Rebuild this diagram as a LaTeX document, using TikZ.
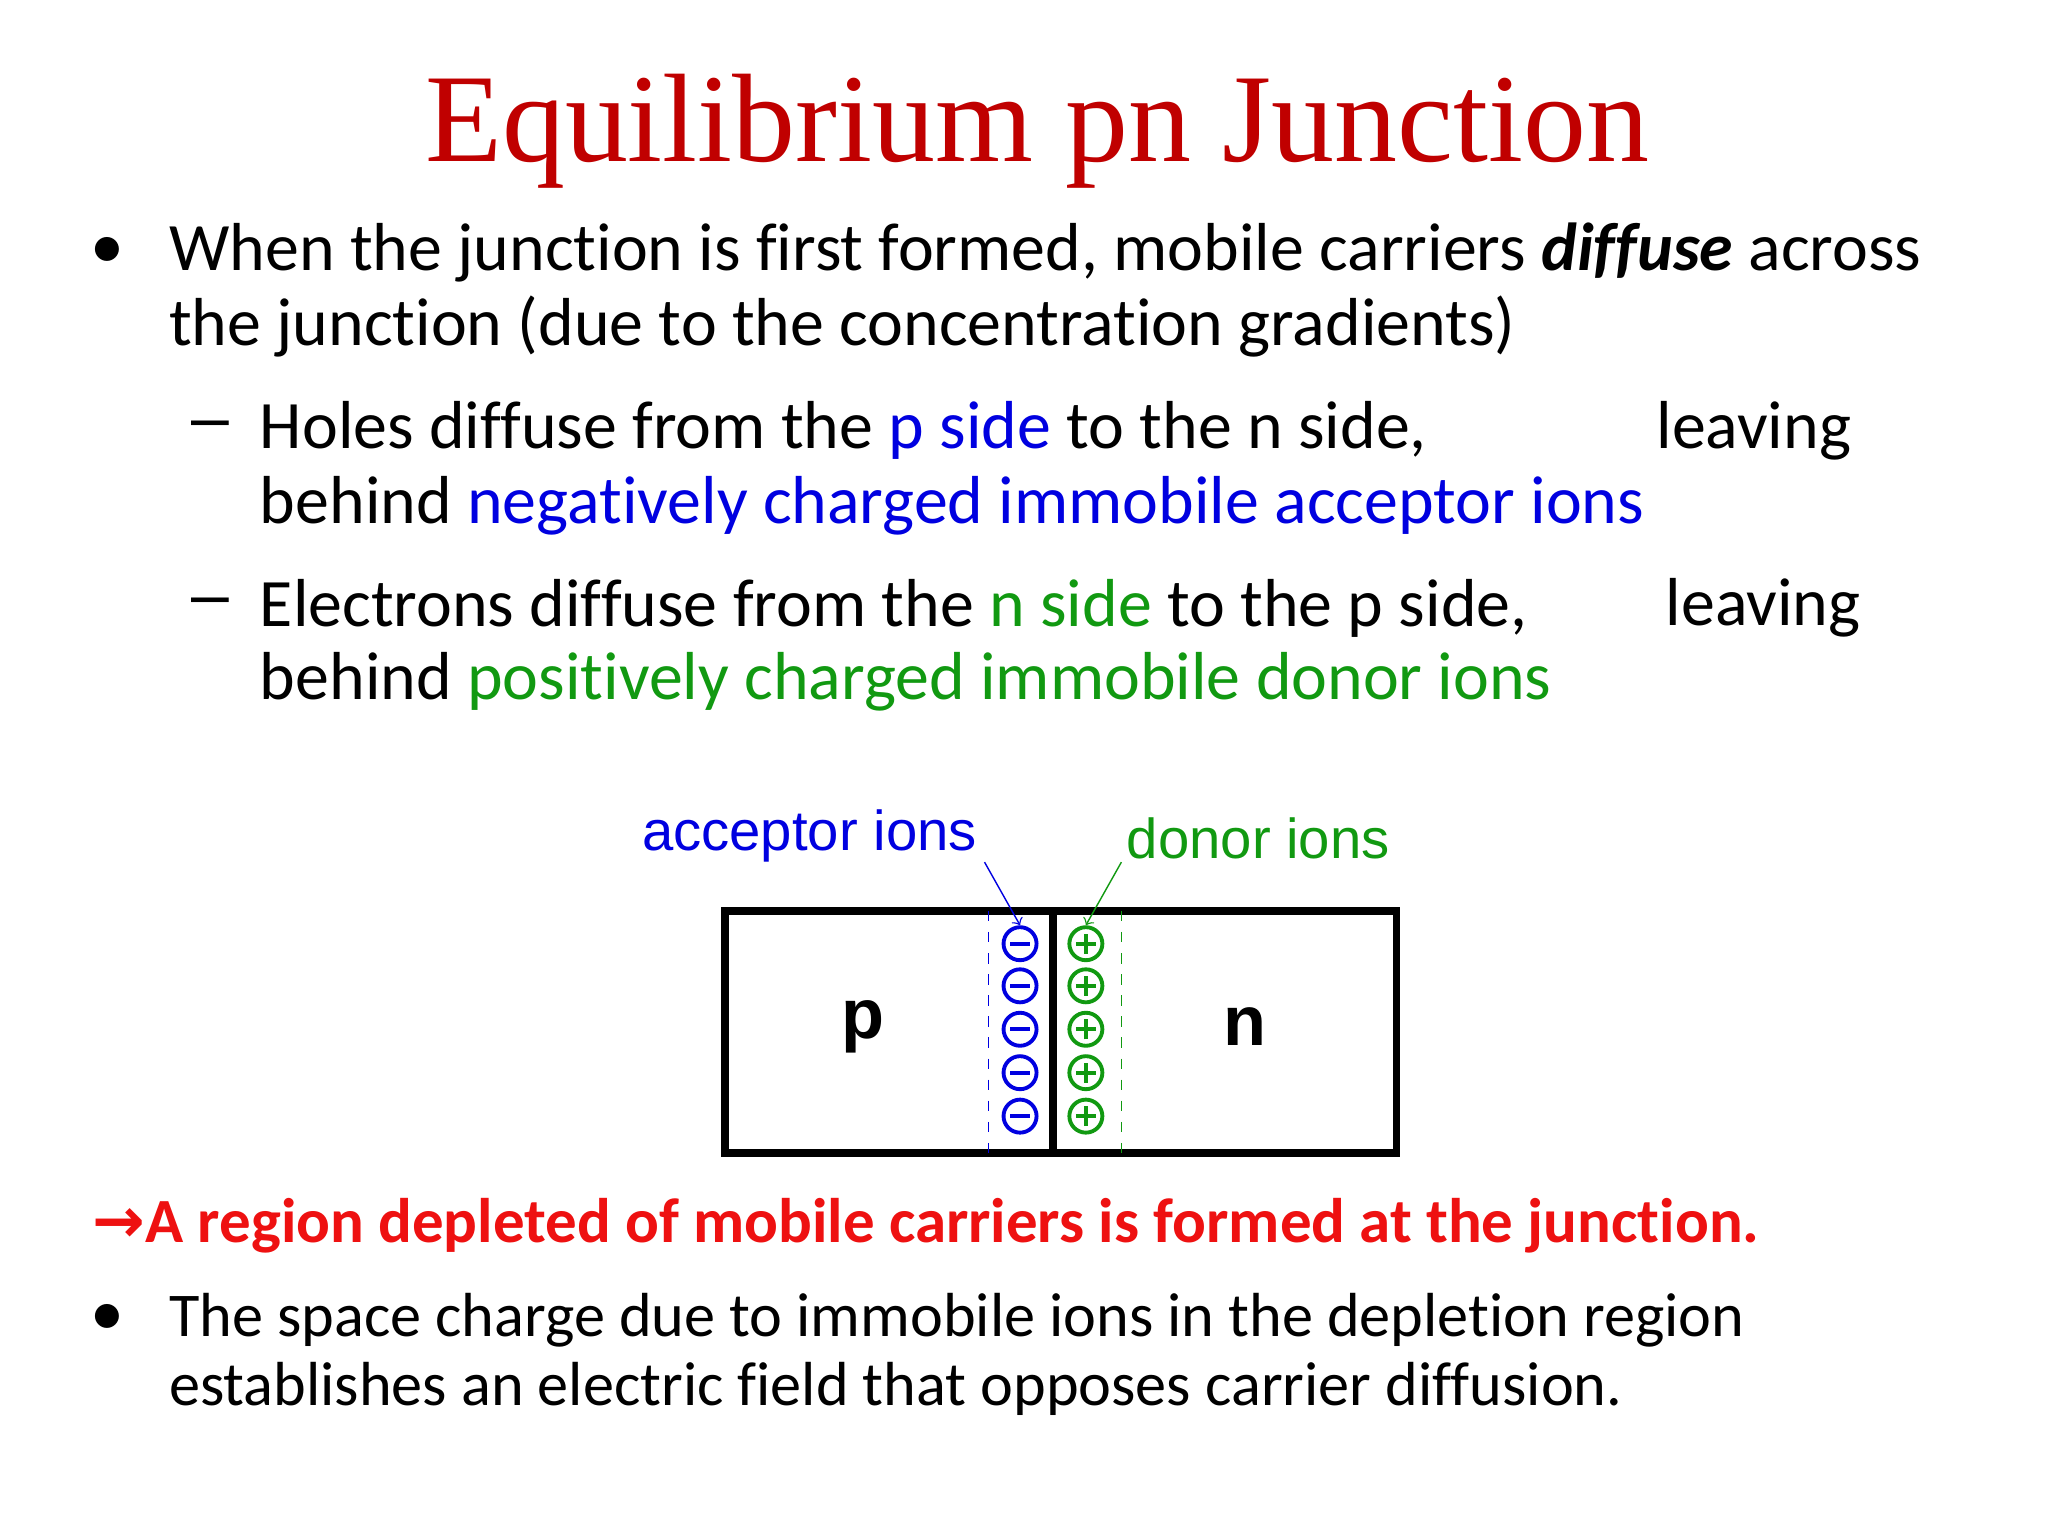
\documentclass[tikz,border=0pt]{standalone}
\usepackage{fontspec}
\setmainfont{Carlito}[Ligatures=NoCommon]
\newfontfamily\titlefont{Liberation Serif}
\newfontfamily\arialfont{Liberation Sans}
\definecolor{titlered}{HTML}{C00000}
\definecolor{myblue}{HTML}{0000E0}
\definecolor{mygreen}{HTML}{119911}
\definecolor{brightred}{HTML}{EE1111}
\begin{document}
\begin{tikzpicture}[x=0.01316cm,y=-0.01316cm,
  body/.style={anchor=west,inner sep=0,font=\fontsize{19.3}{22}\selectfont},
  ionm/.style={circle,draw=myblue,line width=1.1pt,minimum size=0.33cm,inner sep=0,
    path picture={\draw[myblue,line width=1.1pt] ([xshift=-0.1cm]path picture bounding box.center)--([xshift=0.1cm]path picture bounding box.center);}},
  ionp/.style={circle,draw=mygreen,line width=1.1pt,minimum size=0.33cm,inner sep=0,
    path picture={\draw[mygreen,line width=1.1pt] ([xshift=-0.1cm]path picture bounding box.center)--([xshift=0.1cm]path picture bounding box.center)
      ([yshift=-0.1cm]path picture bounding box.center)--([yshift=0.1cm]path picture bounding box.center);}}]
\useasboundingbox (0,0) rectangle (1556,1167);
\fill[white] (0,0) rectangle (1556,1167);
\node[text=titlered,font=\titlefont\fontsize{35.8}{40}\selectfont] (title) at (788,100) {Equilibrium pn Junction};
\node[body] (b1) at (68,192) {•};
\node[body] (t1) at (128,192) {When the junction is first formed, mobile carriers \textbf{\textit{diffuse}} across};
\node[body] (t2) at (128,248) {the junction (due to the concentration gradients)};
\node[body] (d1) at (145,327) {\arialfont –};
\node[body] (t3) at (197,327) {Holes diffuse from the \textcolor{myblue}{p side} to the n side,};
\node[body] (t3b) at (1258,327) {leaving};
\node[body] (t4) at (197,384) {behind \textcolor{myblue}{negatively charged immobile acceptor ions}};
\node[body] (d2) at (145,462) {\arialfont –};
\node[body] (t5) at (197,462) {Electrons diffuse from the \textcolor{mygreen}{n side} to the p side,};
\node[body] (t5b) at (1265,462) {leaving};
\node[body] (t6) at (197,518) {behind \textcolor{mygreen}{positively charged immobile donor ions}};
% diagram
\coordinate (bl) at (551,876);
\coordinate (tr) at (1061,692);
\draw[line width=2.2pt] (bl) rectangle (tr);
\draw[line width=2.2pt] (800,692) coordinate (jt) -- (800,876) coordinate (jb);
\draw[myblue,dashed,thin] (751,692) coordinate (bt) -- (751,876) coordinate (bb);
\draw[mygreen,dashed,thin] (852,692) coordinate (gt) -- (852,876) coordinate (gb);
\foreach \i/\y in {1/717,2/749,3/782,4/815,5/848}{
  \node[ionm] (m\i) at (775,\y) {};
  \node[ionp] (q\i) at (825,\y) {};
}
\node[font=\arialfont\bfseries\fontsize{20}{24}\selectfont] (p) at (656,780) {p};
\node[font=\arialfont\bfseries\fontsize{20}{24}\selectfont] (n) at (946,780) {n};
\node[text=myblue,font=\arialfont\fontsize{16}{19}\selectfont] (acc) at (615,635) {acceptor ions};
\node[text=mygreen,font=\arialfont\fontsize{16}{19}\selectfont] (don) at (956,637) {donor ions};
\draw[myblue,->,thin] (748,655) coordinate (ac) -- (m1.north);
\draw[mygreen,->,thin] (852,655) coordinate (dc) -- (q1.north);
\node[body,text=brightred,font=\bfseries\fontsize{17.9}{21}\selectfont] (red) at (70,931) {\fontspec{DejaVu Sans}\bfseries →\fontspec{Carlito}[Ligatures=NoCommon]\bfseries A region depleted of mobile carriers is formed at the junction.};
\node[body] (b2) at (68,1003) {•};
\node[body,font=\fontsize{17.7}{21}\selectfont] (t7) at (128,1003) {The space charge due to immobile ions in the depletion region};
\node[body,font=\fontsize{17.7}{21}\selectfont] (t8) at (128,1055) {establishes an electric field that opposes carrier diffusion.};
\end{tikzpicture}
\end{document}
